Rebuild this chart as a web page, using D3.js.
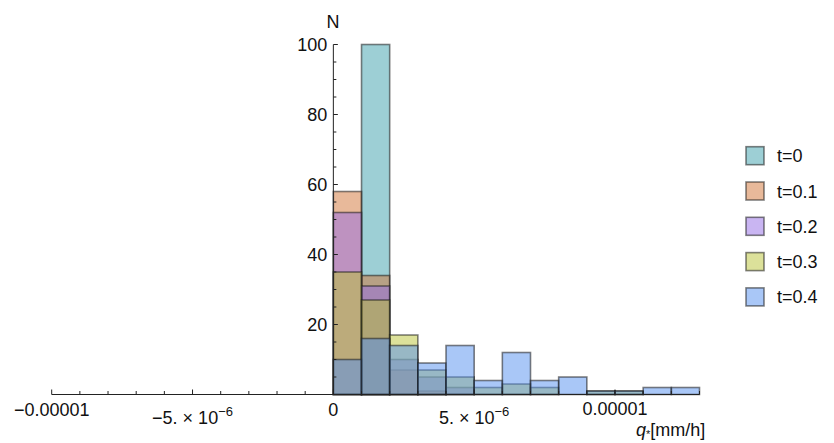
<!DOCTYPE html>
<html>
<head>
<meta charset="utf-8">
<script src="https://cdn.jsdelivr.net/npm/d3@7"></script>
<style>
  body { margin: 0; background: #fff; }
  text { font-family: "Liberation Sans", Arial, Helvetica, sans-serif; fill: #111; }
</style>
</head>
<body>
<div id="chart"></div>
<script>
// bin edges in units of 1e-6 mm/h (each bin is 1e-6 wide)
var binStarts = [0, 1, 2, 3, 4, 5, 6, 7, 8, 9, 10, 11, 12];
var seriesNames = ["t=0", "t=0.1", "t=0.2", "t=0.3", "t=0.4"];
var countsT0  = [0, 100, 0, 0, 0, 0, 0, 0, 0, 0, 0, 0, 0];
var countsT01 = [58, 34, 7, 1, 0, 0, 0, 0, 0, 0, 0, 0, 0];
var countsT02 = [52, 31, 10, 5, 2, 0, 0, 0, 0, 0, 0, 0, 0];
var countsT03 = [35, 27, 17, 7, 5, 2, 3, 2, 0, 1, 1, 0, 0];
var countsT04 = [10, 16, 14, 9, 14, 4, 12, 4, 5, 1, 1, 2, 2];
var seriesColors = ["#3b9fab", "#d17335", "#936be5", "#b9c335", "#538fef"];
var yTicks = [20, 40, 60, 80, 100];

var allCounts = [countsT0, countsT01, countsT02, countsT03, countsT04];

var W = 834, H = 443;
var svg = d3.select("#chart").append("svg")
  .attr("width", W).attr("height", H);

var xScale = d3.scaleLinear()
  .domain([-1e-5, 1.3e-5])
  .range([51.7, 699.5]);

var yScale = d3.scaleLinear()
  .domain([0, 100])
  .range([394.5, 44.5]);

// bars, drawn series by series so later ones sit on top
allCounts.forEach(function(counts, si) {
  var g = svg.append("g").attr("class", "series-" + si);
  g.selectAll("rect")
    .data(binStarts.map(function(b, i) { return { x0: b * 1e-6, x1: (b + 1) * 1e-6, n: counts[i] }; })
      .filter(function(d) { return d.n > 0; }))
    .enter().append("rect")
    .attr("x", function(d) { return xScale(d.x0); })
    .attr("width", function(d) { return xScale(d.x1) - xScale(d.x0); })
    .attr("y", function(d) { return yScale(d.n); })
    .attr("height", function(d) { return yScale(0) - yScale(d.n); })
    .attr("fill", seriesColors[si])
    .attr("fill-opacity", 0.5)
    .attr("stroke", "#1a1a1a")
    .attr("stroke-opacity", 0.55)
    .attr("stroke-width", 1.6);
});

// x axis line and ticks (ticks point up into the plot)
var y0 = yScale(0);
svg.append("line")
  .attr("x1", xScale(-1e-5)).attr("x2", xScale(1.3e-5))
  .attr("y1", y0).attr("y2", y0)
  .attr("stroke", "#222").attr("stroke-width", 1);

var xMinor = d3.range(-10, 14).map(function(k) { return k * 1e-6; });
svg.append("g").selectAll("line")
  .data(xMinor)
  .enter().append("line")
  .attr("x1", function(d) { return xScale(d); })
  .attr("x2", function(d) { return xScale(d); })
  .attr("y1", y0)
  .attr("y2", function(d, i) { return (i % 5 == 0) ? y0 - 5 : y0 - 3.5; })
  .attr("stroke", "#222").attr("stroke-width", 1);

// x tick labels
var xlab = svg.append("g").attr("font-size", 18);
xlab.append("text").attr("x", xScale(-1e-5)).attr("y", 416).attr("text-anchor", "middle").text("\u22120.00001");
xlab.append("text").attr("x", xScale(0)).attr("y", 416).attr("text-anchor", "middle").text("0");
xlab.append("text").attr("x", xScale(1e-5)).attr("y", 415).attr("text-anchor", "middle").text("0.00001");

function expLabel(value, mant) {
  var t = xlab.append("text").attr("x", xScale(value)).attr("y", 424).attr("text-anchor", "middle");
  t.append("tspan").text(mant + " \u00d7 " + "10");
  t.append("tspan").attr("dy", -8).attr("font-size", 13).text("\u22126");
}
expLabel(-5e-6, "\u22125.");
expLabel(5e-6, "5.");

// y axis line and ticks (pointing right)
var x0 = xScale(0);
svg.append("line")
  .attr("x1", x0).attr("x2", x0)
  .attr("y1", y0).attr("y2", yScale(100))
  .attr("stroke", "#222").attr("stroke-width", 1);

svg.append("g").selectAll("line")
  .data(d3.range(5, 101, 5))
  .enter().append("line")
  .attr("x1", x0)
  .attr("x2", function(d) { return (d % 20 == 0) ? x0 + 4.5 : x0 + 3; })
  .attr("y1", function(d) { return yScale(d); })
  .attr("y2", function(d) { return yScale(d); })
  .attr("stroke", "#222").attr("stroke-width", 1);

svg.append("g").attr("font-size", 18).selectAll("text")
  .data(yTicks)
  .enter().append("text")
  .attr("x", x0 - 6)
  .attr("y", function(d) { return yScale(d) + 6.5; })
  .attr("text-anchor", "end")
  .text(function(d) { return d; });

// axis labels
svg.append("text").attr("x", 333).attr("y", 28).attr("text-anchor", "middle")
  .attr("font-size", 18).text("N");

var ql = svg.append("text").attr("x", 636).attr("y", 436).attr("font-size", 18);
ql.append("tspan").attr("font-style", "italic").text("q");
ql.append("tspan").attr("font-size", 11).attr("dy", 2).text("*");
ql.append("tspan").attr("dy", -2).text("[mm/h]");

// legend
var legend = svg.append("g");
seriesNames.forEach(function(name, i) {
  var cy = 155.7 + i * 35.3;
  legend.append("rect")
    .attr("x", 746).attr("y", cy - 9)
    .attr("width", 18).attr("height", 18)
    .attr("fill", seriesColors[i]).attr("fill-opacity", 0.5)
    .attr("stroke", "#1a1a1a").attr("stroke-opacity", 0.55).attr("stroke-width", 1.6);
  legend.append("text")
    .attr("x", 777).attr("y", cy + 6.5)
    .attr("font-size", 18)
    .text(name);
});
</script>
</body>
</html>
